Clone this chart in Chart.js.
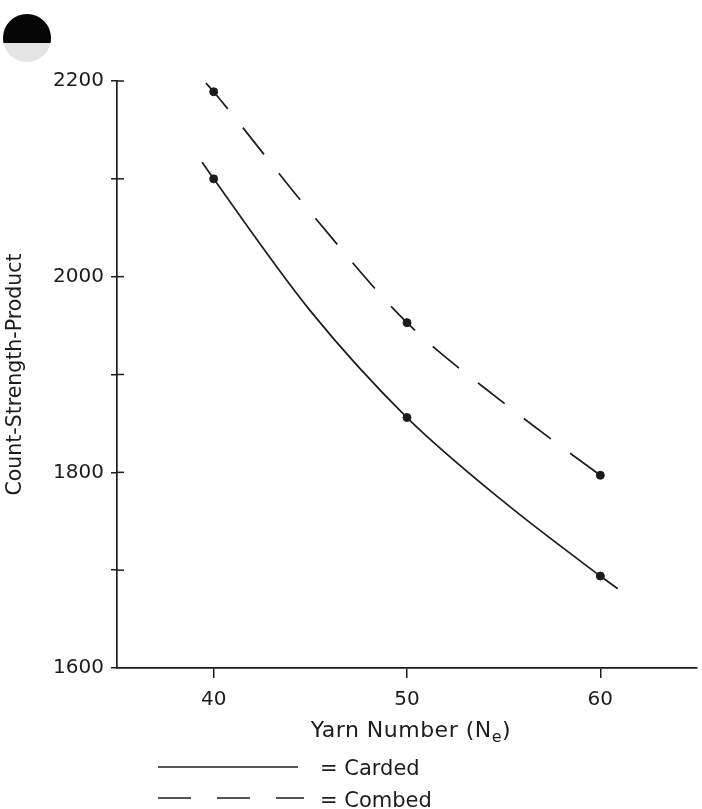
<!DOCTYPE html>
<html><head><meta charset="utf-8">
<script src="https://cdn.jsdelivr.net/npm/chart.js@4.4.1/dist/chart.umd.min.js"></script>
<style>html,body{margin:0;padding:0;background:#fff;overflow:hidden;} #wrap{width:702px;height:809px;position:relative;}</style>
</head><body><div id="wrap"><canvas id="c" width="702" height="809"></canvas></div>
<script>
// ---- data ----
const yarnNumbers = [40, 50, 60];
const cardedValues = [2100, 1856, 1694];
const combedValues = [2189, 1953, 1797];
// points read along the drawn (fitted) curves, including their short overhangs
const cardedCurveX = [39.4, 40, 45, 50, 55, 60, 60.9];
const cardedCurveY = [2117, 2100, 1965, 1856, 1770, 1694, 1681];
const combedCurveX = [39.6, 40, 45, 50, 55, 60, 60.5];
const combedCurveY = [2198, 2189, 2066, 1953, 1871, 1797, 1790];
const xTickValues = [40, 50, 60];
const yTickLabels = ['1600', '1800', '2000', '2200'];
const seriesNames = ['Carded', 'Combed'];
const xTitle = ['Yarn Number (N', 'e', ')'];
const yTitle = 'Count-Strength-Product';

const INK = '#1c1c1c';
const FONT = "'DejaVu Sans', 'Liberation Sans', sans-serif";
const zip = (xs, ys) => xs.map((x, i) => ({x, y: ys[i]}));
const AREA = {left: 117, right: 701, top: 81, bottom: 668};

const extras = {
  id: 'extras',
  beforeDraw(chart) {
    const ctx = chart.ctx;
    ctx.save();
    // scanned punch-hole mark in the top-left corner
    ctx.beginPath(); ctx.arc(27, 38, 24, 0, Math.PI * 2);
    ctx.fillStyle = '#e4e4e4'; ctx.fill();
    ctx.beginPath(); ctx.rect(0, 0, 60, 43); ctx.clip();
    ctx.beginPath(); ctx.arc(27, 38, 24, 0, Math.PI * 2); ctx.fillStyle = '#050505'; ctx.fill();
    ctx.restore();
  },
  afterDraw(chart) {
    const ctx = chart.ctx;
    const ys = chart.scales.y, xs = chart.scales.x;
    ctx.save();
    ctx.strokeStyle = INK; ctx.lineWidth = 1.5;
    // inner half of the y ticks (they cross the axis)
    ys.ticks.forEach(t => {
      if (t.value === ys.min) return;
      const py = ys.getPixelForValue(t.value);
      ctx.beginPath(); ctx.moveTo(xs.left, py); ctx.lineTo(xs.left + 7, py); ctx.stroke();
    });
    // x axis title with subscript
    ctx.fillStyle = INK; ctx.textBaseline = 'alphabetic';
    ctx.letterSpacing = '0.5px';
    const big = '22px ' + FONT, small = '16px ' + FONT;
    ctx.font = big; const w1 = ctx.measureText(xTitle[0]).width, w3 = ctx.measureText(xTitle[2]).width;
    ctx.font = small; const w2 = ctx.measureText(xTitle[1]).width;
    const cx = 411;
    const x0 = cx - (w1 + w2 + w3) / 2; const base = 737;
    ctx.font = big; ctx.fillText(xTitle[0], x0, base);
    ctx.font = small; ctx.fillText(xTitle[1], x0 + w1, base + 5);
    ctx.font = big; ctx.fillText(xTitle[2], x0 + w1 + w2, base);
    ctx.letterSpacing = '0px';
    // legend
    const lx0 = 158, tx = 320;
    ctx.lineWidth = 1.7;
    ctx.beginPath(); ctx.setLineDash([]); ctx.moveTo(lx0, 767); ctx.lineTo(298, 767); ctx.stroke();
    ctx.beginPath(); ctx.setLineDash([33, 26]); ctx.moveTo(lx0, 798); ctx.lineTo(304, 798); ctx.stroke();
    ctx.setLineDash([]);
    ctx.font = '21px ' + FONT;
    ctx.fillText('= ' + seriesNames[0], tx, 775);
    ctx.fillText('= ' + seriesNames[1], tx, 807);
    ctx.restore();
  }
};

const chart = new Chart(document.getElementById('c'), {
  type: 'scatter',
  data: {
    datasets: [
      {label: seriesNames[0] + ' curve', data: zip(cardedCurveX, cardedCurveY), showLine: true,
       borderColor: INK, borderWidth: 1.7, pointRadius: 0, cubicInterpolationMode: 'monotone', clip: false},
      {label: seriesNames[1] + ' curve', data: zip(combedCurveX, combedCurveY), showLine: true,
       borderColor: INK, borderWidth: 1.7, borderDash: [34, 24], pointRadius: 0, cubicInterpolationMode: 'monotone', clip: false},
      {label: seriesNames[0], data: zip(yarnNumbers, cardedValues), showLine: false,
       pointRadius: 4, backgroundColor: INK, borderColor: INK, clip: false},
      {label: seriesNames[1], data: zip(yarnNumbers, combedValues), showLine: false,
       pointRadius: 4, backgroundColor: INK, borderColor: INK, clip: false}
    ]
  },
  options: {
    responsive: false, animation: false, devicePixelRatio: 1,
    layout: {padding: {top: 81, right: 1, left: 0, bottom: 0}},
    plugins: {legend: {display: false}, tooltip: {enabled: false}},
    scales: {
      x: {
        type: 'linear', min: 35, max: 65,
        afterBuildTicks: s => { s.ticks = xTickValues.map(v => ({value: v})); },
        afterFit: s => { s.height = 809 - AREA.bottom; },
        grid: {drawOnChartArea: false, drawTicks: true, tickLength: 10, color: INK, lineWidth: 1.5},
        border: {display: true, color: INK, width: 1.7},
        ticks: {font: {family: FONT, size: 20}, color: INK, padding: 10, maxRotation: 0, autoSkip: false},
        title: {display: false}
      },
      y: {
        min: 1600, max: 2200,
        afterFit: s => { s.width = AREA.left; },
        grid: {drawOnChartArea: false, drawTicks: true, tickLength: 6, color: INK, lineWidth: 1.5},
        border: {display: true, color: INK, width: 1.7},
        ticks: {stepSize: 100, font: {family: FONT, size: 20}, color: INK, padding: 7,
                callback: v => (yTickLabels.includes(String(v)) ? String(v) : '')},
        title: {display: true, text: yTitle, font: {family: FONT, size: 20.5}, color: INK, padding: {top: 3, bottom: 0}}
      }
    }
  },
  plugins: [extras]
});

// make the plot area land exactly where the reference has it
const ca = chart.chartArea, pad = chart.options.layout.padding;
const dr = AREA.right - ca.right, dt = AREA.top - ca.top;
if (Math.abs(dr) > 0.5 || Math.abs(dt) > 0.5) {
  pad.right -= dr; pad.top += dt;
  chart.update();
}
</script></body></html>
